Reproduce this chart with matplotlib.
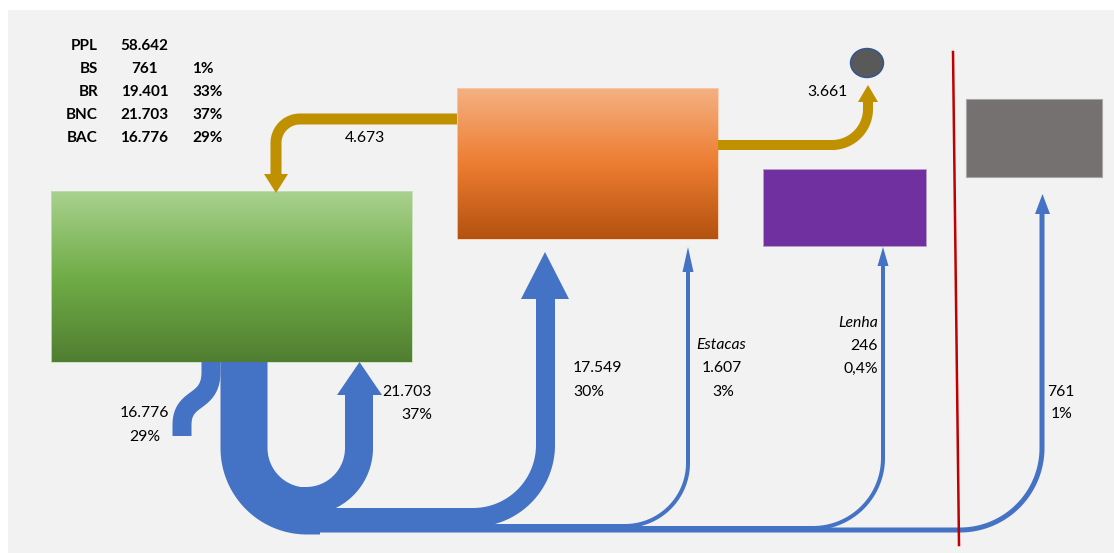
import numpy as np
import matplotlib
matplotlib.use("Agg")
import matplotlib.pyplot as plt
from matplotlib.patches import Rectangle, Polygon, Ellipse
from matplotlib.colors import LinearSegmentedColormap

plt.rcParams['font.family'] = ['Lato', 'DejaVu Sans']

# ---------------- data ----------------
table_labels = ["PPL", "BS", "BR", "BNC", "BAC"]
table_values = ["58.642", "761", "19.401", "21.703", "16.776"]
table_pcts = ["", "1%", "33%", "37%", "29%"]

flow_names = ["BAC", "BNC", "BR", "Estacas", "Lenha", "BS"]
flow_values = ["16.776", "21.703", "17.549", "1.607", "246", "761"]
flow_pcts = ["29%", "37%", "30%", "3%", "0,4%", "1%"]
gold_values = ["4.673", "3.661"]

BLUE = "#4472c4"
GOLD = "#bf9000"

W, H = 1114, 553
fig = plt.figure(figsize=(W / 100, H / 100), dpi=100, facecolor="white")
ax = fig.add_axes([0, 0, 1, 1])
ax.set_xlim(0, W)
ax.set_ylim(H, 0)
ax.axis("off")

def px(w):
    return w * 72 / 100.0

ax.add_patch(Rectangle((8, 10), W - 8, H - 10, fc="#f2f2f2", ec="none", zorder=0))

def arc(cx, cy, r, a0, a1, n=60):
    a = np.radians(np.linspace(a0, a1, n))
    return np.column_stack([cx + r * np.cos(a), cy + r * np.sin(a)])

def stroke(pts, w, color, z=2):
    pts = np.asarray(pts, dtype=float)
    ax.plot(pts[:, 0], pts[:, 1], color=color, lw=px(w), solid_capstyle="butt",
            solid_joinstyle="round", zorder=z)

def head(x, base, tip, width, color, z=3):
    ax.add_patch(Polygon([(x - width / 2, base), (x + width / 2, base), (x, tip)],
                         closed=True, fc=color, ec="none", zorder=z))

def gradient_box(x0, y0, x1, y1, colors, edge, z=1):
    cmap = LinearSegmentedColormap.from_list("g", colors)
    grad = np.linspace(0, 1, 256).reshape(-1, 1)
    ax.imshow(grad, cmap=cmap, extent=(x0, x1, y1, y0), aspect="auto", zorder=z,
              interpolation="bilinear")
    ax.add_patch(Rectangle((x0, y0), x1 - x0, y1 - y0, fc="none", ec=edge, lw=0.6, zorder=z))

# ---------------- boxes ----------------
gradient_box(51, 191, 412, 362, ["#a9d18e", "#70ad47", "#507e31"], "#c5deb5")
gradient_box(457, 88, 718, 239, ["#f4b183", "#ed7d31", "#b3520f"], "#f8cbad")
ax.add_patch(Rectangle((763, 169), 163, 77, fc="#7030a0", ec="#b4a0c8", lw=0.6, zorder=1))
ax.add_patch(Rectangle((966, 99), 136, 78, fc="#767171", ec="#a6a6a6", lw=0.8, zorder=1))
ax.add_patch(Ellipse((867, 63), 33, 29, fc="#595959", ec="#2f5597", lw=1, zorder=2))
ax.set_xlim(0, W)
ax.set_ylim(H, 0)

# ---------------- gold flows ----------------
p = np.vstack([[(457, 119), (300, 119)], arc(300, 143, 24, 270, 180), [(276, 175)]])
stroke(p, 11, GOLD)
head(276, 174, 193, 24, GOLD)
p = np.vstack([[(718, 145), (832, 145)], arc(832, 109, 36, 90, 0), [(868, 101)]])
stroke(p, 10, GOLD)
head(868, 102, 85, 20, GOLD)

# ---------------- blue flows ----------------
# BAC S-curve
t = np.linspace(0, 1, 50)
P0, P1, P2, P3 = np.array([182, 425]), np.array([182, 395]), np.array([211, 405]), np.array([211, 372])
bez = ((1 - t) ** 3)[:, None] * P0 + (3 * (1 - t) ** 2 * t)[:, None] * P1 + \
      (3 * (1 - t) * t ** 2)[:, None] * P2 + (t ** 3)[:, None] * P3
p = np.vstack([[(182, 436)], bez, [(211, 362)]])
stroke(p, 19, BLUE)
# trunk
p = np.vstack([[(244, 362), (244, 448)], arc(307, 448, 63, 180, 90), [(320, 511)]])
stroke(p, 47, BLUE)
# BNC U-turn arm
p = np.vstack([[(359, 394), (359, 448)], arc(306, 448, 53, 0, 90), [(290, 501)]])
stroke(p, 28, BLUE)
head(359.5, 395, 362, 45, BLUE)
# BR to orange
p = np.vstack([[(300, 517.5), (473, 517.5)], arc(473, 445, 72.5, 90, 0), [(545.5, 299)]])
stroke(p, 19, BLUE)
head(545, 299, 252, 48, BLUE)
# Estacas
p = np.vstack([[(307, 526), (625, 526)], arc(625, 463, 63, 90, 0), [(688, 270)]])
stroke(p, 4, BLUE)
head(688, 272, 247, 11, BLUE)
# Lenha
p = np.vstack([[(307, 528), (813, 528)], arc(813, 458, 70, 90, 0), [(883, 264)]])
stroke(p, 4, BLUE)
head(883, 266, 247, 11, BLUE)
# BS
p = np.vstack([[(307, 530), (960, 530)], arc(960, 448, 82, 90, 0), [(1042, 212)]])
stroke(p, 5, BLUE)
head(1042.5, 214, 194, 15, BLUE)

# red line
ax.plot([953, 959], [52, 545], color="#c00000", lw=px(2.5), zorder=4)

# ---------------- text ----------------
tc = "black"
rows_y = [46, 69, 92, 115, 138]
for y, l, v, pc in zip(rows_y, table_labels, table_values, table_pcts):
    ax.text(98, y, l, ha="right", va="center", fontsize=11, fontweight="bold", color=tc)
    ax.text(144.5, y, v, ha="center", va="center", fontsize=11, fontweight="bold", color=tc)
    if pc:
        ax.text(192, y, pc, ha="left", va="center", fontsize=11, fontweight="bold", color=tc)

fs = 11.3
# BAC
ax.text(144, 413, flow_values[0], ha="center", va="center", fontsize=fs, color=tc)
ax.text(145, 437, flow_pcts[0], ha="center", va="center", fontsize=fs, color=tc)
# BNC
ax.text(432, 392, flow_values[1], ha="right", va="center", fontsize=fs, color=tc)
ax.text(432, 415, flow_pcts[1], ha="right", va="center", fontsize=fs, color=tc)
# BR
ax.text(573, 368, flow_values[2], ha="left", va="center", fontsize=fs, color=tc)
ax.text(573, 392, flow_pcts[2], ha="left", va="center", fontsize=fs, color=tc)
# Estacas
ax.text(721, 345, flow_names[3], ha="center", va="center", fontsize=fs, color=tc, style="italic")
ax.text(722, 368, flow_values[3], ha="center", va="center", fontsize=fs, color=tc)
ax.text(723, 392, flow_pcts[3], ha="center", va="center", fontsize=fs, color=tc)
# Lenha
ax.text(878, 323, flow_names[4], ha="right", va="center", fontsize=fs, color=tc, style="italic")
ax.text(878, 346, flow_values[4], ha="right", va="center", fontsize=fs, color=tc)
ax.text(878, 369, flow_pcts[4], ha="right", va="center", fontsize=fs, color=tc)
# BS
ax.text(1061, 392, flow_values[5], ha="center", va="center", fontsize=fs, color=tc)
ax.text(1062, 414, flow_pcts[5], ha="center", va="center", fontsize=fs, color=tc)
# gold
ax.text(365, 138, gold_values[0], ha="center", va="center", fontsize=fs, color=tc)
ax.text(827, 92, gold_values[1], ha="center", va="center", fontsize=fs, color=tc)

fig.savefig("out.png", dpi=100, facecolor="white")
